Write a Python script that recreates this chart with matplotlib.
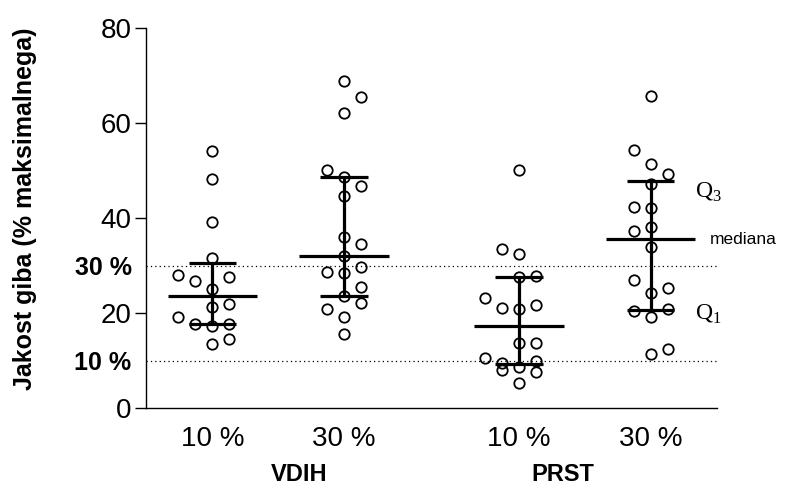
import numpy as np
import matplotlib
matplotlib.use("Agg")
import matplotlib.pyplot as plt
import matplotlib.transforms as mtransforms

plt.rcParams['font.family'] = ['Liberation Sans', 'DejaVu Sans']
plt.rcParams['mathtext.fontset'] = 'custom'
plt.rcParams['mathtext.rm'] = 'Liberation Serif'

# Strength (% of max) per subject, and the column slot each dot sits in
vdih_10 = [54.2, 48.3, 39.2, 31.5, 27.9, 26.8, 27.5, 25.05, 21.2, 21.9, 19.1, 17.7, 17.3, 17.7, 14.5, 13.5]
vdih_10_slot = [0, 0, 0, 0, -2, -1, 1, 0, 0, 1, -2, -1, 0, 1, 1, 0]
vdih_30 = [68.9, 65.4, 62.2, 50.2, 48.6, 46.7, 44.6, 35.9, 34.5, 32.0, 28.6, 28.4, 29.6, 25.4, 23.6, 22.2, 20.8, 19.2, 15.6]
vdih_30_slot = [0, 1, 0, -1, 0, 1, 0, 0, 1, 0, -1, 0, 1, 1, 0, 1, -1, 0, 0]
prst_10 = [50.2, 33.4, 32.4, 27.5, 27.8, 23.2, 21.05, 20.8, 21.7, 13.6, 13.6, 10.6, 9.4, 7.9, 8.7, 10.0, 7.5, 5.3]
prst_10_slot = [0, -1, 0, 0, 1, -2, -1, 0, 1, 0, 1, -2, -1, -1, 0, 1, 1, 0]
prst_30 = [65.7, 54.3, 51.4, 49.2, 47.2, 42.4, 42.2, 38.2, 37.3, 33.8, 26.9, 25.3, 24.3, 20.8, 20.5, 19.1, 12.4, 11.4]
prst_30_slot = [0, -1, 0, 1, 0, -1, 0, 0, -1, 0, -1, 1, 0, 1, -1, 0, 1, 0]

groups = [vdih_10, vdih_30, prst_10, prst_30]
slots = [vdih_10_slot, vdih_30_slot, prst_10_slot, prst_30_slot]
tick_labels = ["10 %", "30 %", "10 %", "30 %"]
group_names = ["VDIH", "PRST"]
ref_levels = [10, 30]
ref_labels = ["10 %", "30 %"]

positions = [1, 2, 3.33, 4.33]
group_pos = [1.66, 3.66]
slot_w = 0.129

fig = plt.figure(figsize=(7.88, 4.88), dpi=100)
ax = fig.add_axes([146 / 788, 80 / 488, 571 / 788, 380 / 488])

for lvl in ref_levels:
    ax.axhline(lvl, color="black", lw=0.9, ls=(0, (1, 2.5)), zorder=1)

for pos, vals, sl in zip(positions, groups, slots):
    vals = np.array(vals)
    xs = pos + np.array(sl) * slot_w
    ax.plot(xs, vals, 'o', ms=7.5, mfc='none', mec='black', mew=1.3, zorder=3)
    q1, med, q3 = np.percentile(vals, [25, 50, 75], method='weibull')
    ax.plot([pos, pos], [q1, q3], color='black', lw=2.3, solid_capstyle='butt', zorder=4)
    ax.plot([pos - 0.34, pos + 0.34], [med, med], color='black', lw=2.3, solid_capstyle='butt', zorder=4)
    for q in (q1, q3):
        ax.plot([pos - 0.18, pos + 0.18], [q, q], color='black', lw=2.3, solid_capstyle='butt', zorder=4)

# notes next to the last column
q1, med, q3 = np.percentile(np.array(prst_30), [25, 50, 75], method='weibull')
ax.text(4.67, q3 - 2.3, r"$\mathrm{Q}_3$", fontsize=17, va='center', ha='left')
ax.text(4.67, q1 - 1.0, r"$\mathrm{Q}_1$", fontsize=17, va='center', ha='left')
ax.text(4.78, med, "mediana", fontsize=12.5, va='center', ha='left')

ax.set_xlim(0.495, 4.835)
ax.set_ylim(0, 80)
ax.set_yticks([0, 20, 40, 60, 80])
ax.set_yticks(ref_levels, minor=True)
ax.set_yticklabels(ref_labels, minor=True, fontweight='bold', fontsize=18)
ax.tick_params(axis='y', which='major', length=8, width=1, pad=2.4, labelsize=20)
ax.tick_params(axis='y', which='minor', length=0, pad=10.4)
ax.set_xticks(positions)
ax.set_xticklabels(tick_labels)
ax.tick_params(axis='x', length=0, pad=13, labelsize=20)

for s in ['top', 'right']:
    ax.spines[s].set_visible(False)
for s in ['left', 'bottom']:
    ax.spines[s].set_linewidth(1.0)

trans = mtransforms.blended_transform_factory(ax.transData, ax.transAxes)
for gp, name in zip(group_pos, group_names):
    ax.text(gp, -0.174, name, transform=trans, ha='center', va='center',
            fontsize=17, fontweight='bold')

fig.text(25 / 788, 1 - 209 / 488, "Jakost giba (% maksimalnega)", rotation=90,
         ha='center', va='center', fontsize=18, fontweight='bold')

fig.savefig("out.png", dpi=100)
